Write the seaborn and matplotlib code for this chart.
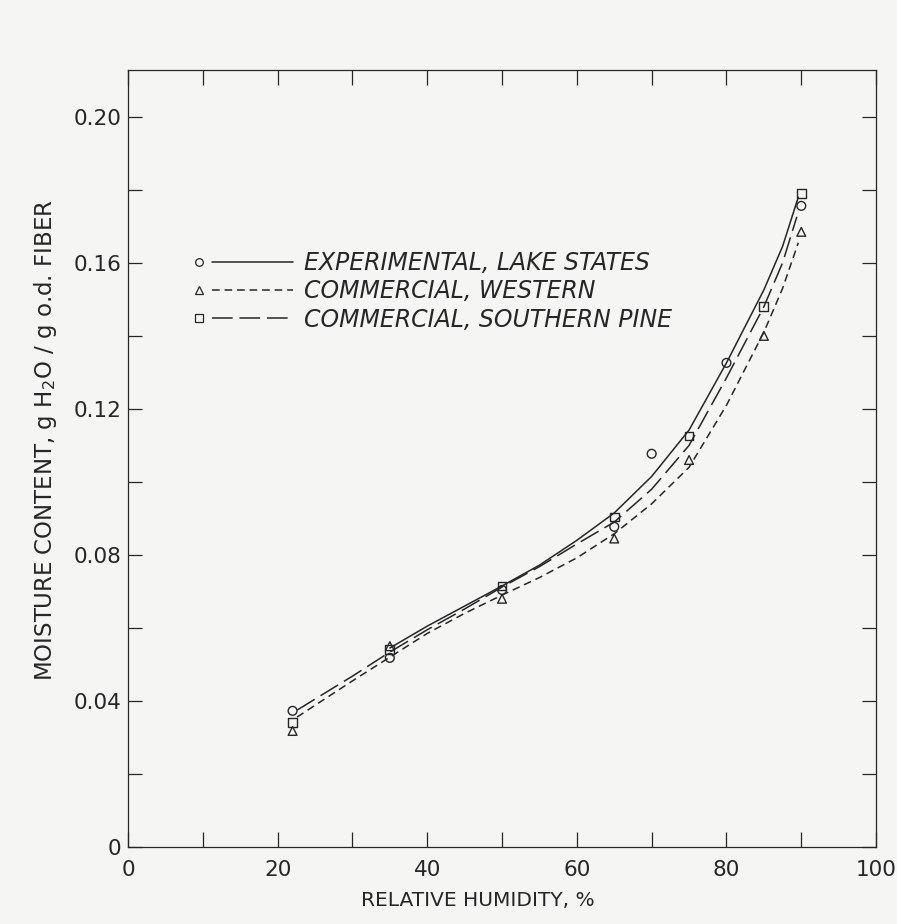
import numpy as np
import pandas as pd
import matplotlib
matplotlib.use("Agg")
import matplotlib.pyplot as plt
import seaborn as sns
from matplotlib.lines import Line2D
from matplotlib.legend_handler import HandlerBase
from matplotlib.ticker import MultipleLocator

# ---------------------------
# DATA
# ---------------------------
# measured points
rh_lake = [22, 35, 50, 65, 70, 80, 90]
mc_lake = [0.0373, 0.0518, 0.0704, 0.0877, 0.1077, 0.1326, 0.1756]

rh_west = [22, 35, 50, 65, 75, 85, 90]
mc_west = [0.0318, 0.0550, 0.0680, 0.0845, 0.1060, 0.1400, 0.1685]

rh_pine = [22, 35, 50, 65, 75, 85, 90]
mc_pine = [0.0342, 0.0540, 0.0715, 0.0904, 0.1126, 0.1480, 0.1789]

# fitted curves
fit_rh_lake = [35, 40, 45, 50, 55, 60, 65, 70, 75, 80, 85, 87.5, 89.6]
fit_mc_lake = [0.0545, 0.0605, 0.066, 0.0715, 0.0772, 0.0840, 0.0915, 0.1015, 0.1142,
               0.1326, 0.1526, 0.1645, 0.1780]

fit_rh_west = [22.6, 30, 35, 40, 45, 50, 55, 60, 65, 70, 75, 80, 85, 87.5, 89.6]
fit_mc_west = [0.0356, 0.0455, 0.0520, 0.0585, 0.0640, 0.0690, 0.0738, 0.0792, 0.0858,
               0.0940, 0.1040, 0.1210, 0.1410, 0.1530, 0.1655]

fit_rh_pine = [22.6, 30, 35, 40, 45, 50, 55, 60, 65, 70, 75, 80, 85, 87.5, 89.4]
fit_mc_pine = [0.0375, 0.0468, 0.0534, 0.0595, 0.0652, 0.0712, 0.0768, 0.0830, 0.0890,
               0.0980, 0.1100, 0.1285, 0.1480, 0.1600, 0.1726]

labels = ["EXPERIMENTAL, LAKE STATES", "COMMERCIAL, WESTERN", "COMMERCIAL, SOUTHERN PINE"]

# ---------------------------
# STYLE
# ---------------------------
sns.set_style("ticks")
plt.rcParams['font.family'] = ['DejaVu Sans']
paper = '#f5f5f3'
ink = '#262626'

fig = plt.figure(figsize=(8.97, 9.24), dpi=100, facecolor=paper)
ax = fig.add_axes([0.1427, 0.0833, 0.834, 0.8409])
ax.set_facecolor(paper)

lw = 1.1
dash_styles = [None, (5.0, 3.2), (13.5, 4.5)]
markers = ['o', '^', 's']

fits = [(fit_rh_lake, fit_mc_lake), (fit_rh_west, fit_mc_west), (fit_rh_pine, fit_mc_pine)]
pts = [(rh_lake, mc_lake), (rh_west, mc_west), (rh_pine, mc_pine)]

handles = []
for (fx, fy), (px, py), dsh, mk, lab in zip(fits, pts, dash_styles, markers, labels):
    fit_df = pd.DataFrame({'rh': fx, 'mc': fy})
    sns.lineplot(data=fit_df, x='rh', y='mc', ax=ax, color=ink, lw=lw,
                 estimator=None, sort=False)
    line = ax.lines[-1]
    if dsh is not None:
        line.set_dashes(dsh)
    pt_df = pd.DataFrame({'rh': px, 'mc': py})
    sns.scatterplot(data=pt_df, x='rh', y='mc', ax=ax, marker=mk, s=40,
                    facecolors='none', edgecolor=ink, linewidth=1.0, zorder=3)
    h = Line2D([], [], color=ink, lw=lw, marker=mk, ms=5.5, mfc='none', mec=ink, mew=0.9)
    if dsh is not None:
        h.set_dashes(dsh)
    handles.append(h)


class MarkerThenLine(HandlerBase):
    def create_artists(self, legend, orig_handle, xdescent, ydescent, width, height,
                       fontsize, trans):
        y = height / 2 - ydescent
        x0 = -xdescent
        mk = Line2D([x0 + 4], [y], marker=orig_handle.get_marker(), ls='none',
                    ms=orig_handle.get_markersize(), mfc='none', mec=ink, mew=0.9,
                    transform=trans)
        ln = Line2D([x0 + 13, x0 + width], [y, y])
        ln.update_from(orig_handle)
        ln.set_marker('None')
        ln.set_transform(trans)
        return [mk, ln]


leg = ax.legend(handles, labels, loc='upper left', bbox_to_anchor=(0.088, 0.767),
                frameon=False, borderpad=0, borderaxespad=0, handlelength=4.2,
                handletextpad=0.45, labelspacing=0.18,
                handler_map={Line2D: MarkerThenLine()},
                prop={'size': 17, 'style': 'italic'})
for t in leg.get_texts():
    t.set_color(ink)

# ---------------------------
# AXES
# ---------------------------
ax.set_xlim(0, 100)
ax.set_ylim(0, 0.2128)
ax.xaxis.set_major_locator(MultipleLocator(20))
ax.xaxis.set_minor_locator(MultipleLocator(10))
ax.yaxis.set_major_locator(MultipleLocator(0.04))
ax.yaxis.set_minor_locator(MultipleLocator(0.02))
ax.set_yticks([0, 0.04, 0.08, 0.12, 0.16, 0.20])
ax.set_yticklabels(['0', '0.04', '0.08', '0.12', '0.16', '0.20'])

ax.tick_params(which='both', direction='in', top=True, right=True, color=ink,
               width=0.9, labelsize=15.5, labelcolor=ink)
ax.tick_params(axis='x', which='both', length=11, pad=9)
ax.tick_params(axis='y', which='both', length=10, pad=5)
for sp in ax.spines.values():
    sp.set_visible(True)
    sp.set_color(ink)
    sp.set_linewidth(0.9)

ax.set_xlabel("RELATIVE HUMIDITY, %", fontsize=14.5, color=ink, labelpad=5)
ax.xaxis.set_label_coords(0.468, -0.057)
ax.set_ylabel("MOISTURE CONTENT, g H$_2$O / g o.d. FIBER", fontsize=16.5, color=ink)
ax.yaxis.set_label_coords(-0.092, 0.524)

fig.savefig("out.png", dpi=100, facecolor=paper)
